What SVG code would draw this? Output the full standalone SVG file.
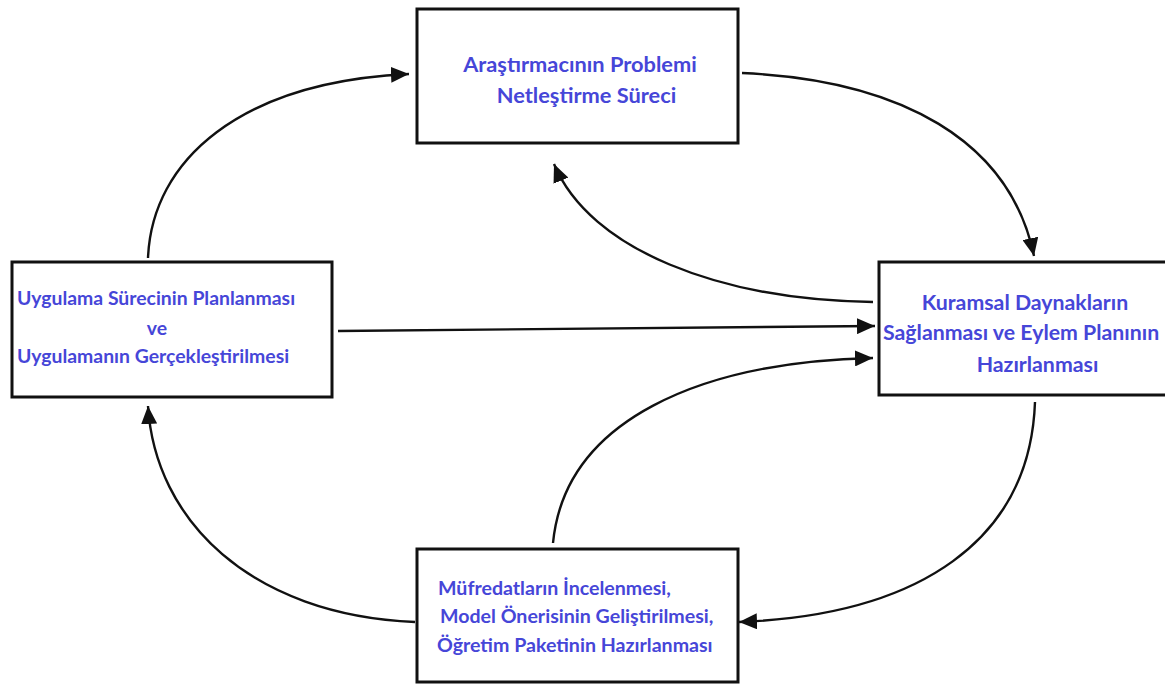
<svg xmlns="http://www.w3.org/2000/svg" width="1165" height="684" viewBox="0 0 1165 684">
  <style>
    .box { fill: #ffffff; stroke: #111111; stroke-width: 3; }
    .lbl { font-family: Lato, "Open Sans", "DejaVu Sans", sans-serif; font-weight: bold; fill: #4646d8; }
    .link { fill: none; stroke: #111111; stroke-width: 2.4; marker-end: url(#head); }
  </style>
  <defs>
    <marker id="head" markerUnits="userSpaceOnUse" markerWidth="20" markerHeight="16" refX="18" refY="8" orient="auto">
      <path d="M0,0 L18,8 L0,16 Z" fill="#111111"/>
    </marker>
  </defs>
  <rect width="1165" height="684" fill="#ffffff"/>

  <g id="connectors">
    <path class="link" d="M148,258 C152,160 240,82 409,74"/>
    <path class="link" d="M742,73 C900,80 1010,140 1034,256"/>
    <path class="link" d="M873,302 C720,300 590,250 554,164"/>
    <path class="link" d="M338,331 L875,326"/>
    <path class="link" d="M553,543 C565,420 700,362 873,358"/>
    <path class="link" d="M1035,402 C1030,540 920,615 739,622"/>
    <path class="link" d="M415,622 C250,615 155,520 148,406"/>
  </g>

  <g id="node-problem" font-size="21.8">
    <rect class="box" x="417" y="9" width="321" height="134"/>
    <text class="lbl" x="580" y="72" text-anchor="middle">Araştırmacının Problemi</text>
    <text class="lbl" x="586.5" y="103" text-anchor="middle">Netleştirme Süreci</text>
  </g>

  <g id="node-uygulama" font-size="19.4">
    <rect class="box" x="12" y="262" width="320" height="135"/>
    <text class="lbl" x="17" y="305">Uygulama Sürecinin Planlanması</text>
    <text class="lbl" x="157" y="335" text-anchor="middle">ve</text>
    <text class="lbl" x="17" y="363">Uygulamanın Gerçekleştirilmesi</text>
  </g>

  <g id="node-kuramsal" font-size="21.3">
    <rect class="box" x="879" y="262" width="300" height="133"/>
    <text class="lbl" x="1025" y="310" text-anchor="middle">Kuramsal Daynakların</text>
    <text class="lbl" x="883" y="340">Sağlanması ve Eylem Planının</text>
    <text class="lbl" x="1037.5" y="372" text-anchor="middle">Hazırlanması</text>
  </g>

  <g id="node-mufredat" font-size="19.6">
    <rect class="box" x="417" y="549" width="321" height="133"/>
    <text class="lbl" x="438" y="595">Müfredatların İncelenmesi,</text>
    <text class="lbl" x="440" y="623">Model Önerisinin Geliştirilmesi,</text>
    <text class="lbl" x="437" y="652">Öğretim Paketinin Hazırlanması</text>
  </g>
</svg>
